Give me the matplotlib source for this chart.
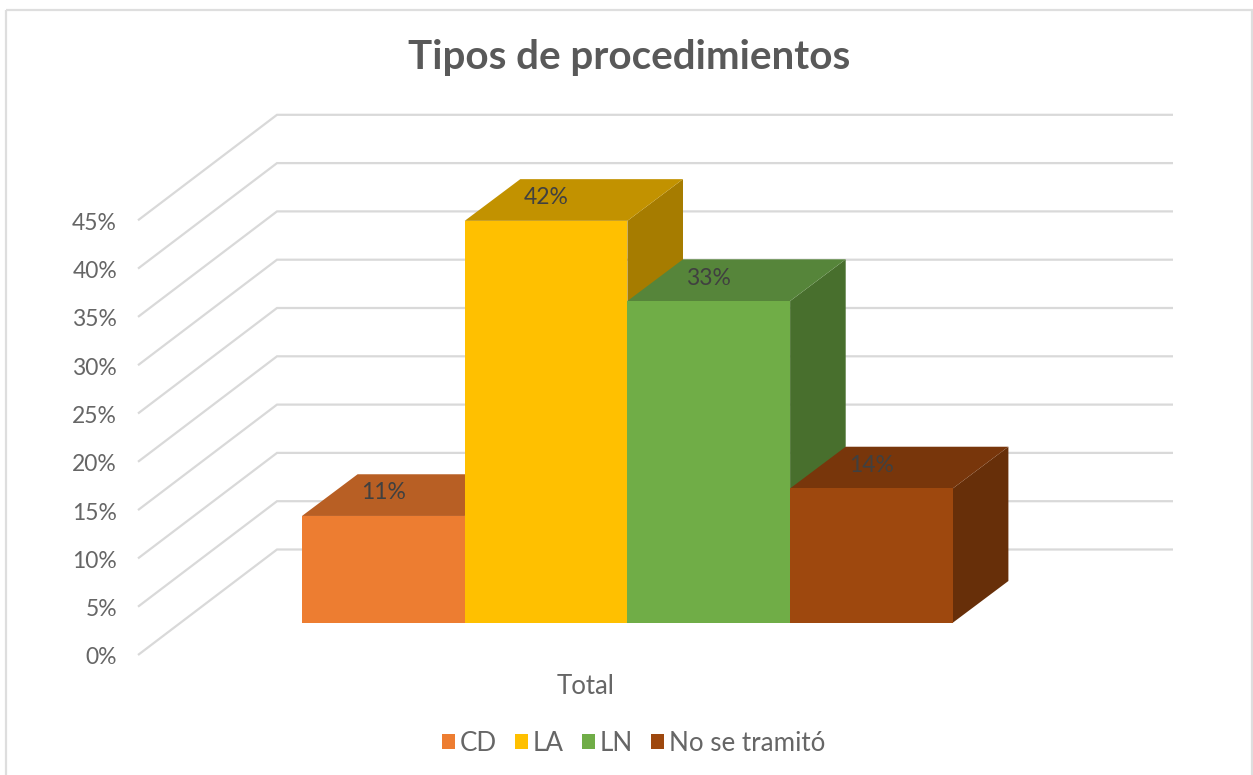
import matplotlib
matplotlib.use("Agg")
import matplotlib.pyplot as plt
from matplotlib.patches import Patch, Rectangle

plt.rcParams['font.family'] = ['Lato', 'DejaVu Sans']

title = "Tipos de procedimientos"
category = "Total"
series = ["CD", "LA", "LN", "No se tramitó"]
values = [11.05, 41.6, 33.3, 13.9]
ticks = [0, 5, 10, 15, 20, 25, 30, 35, 40, 45]

front_cols = ["#ED7D31", "#FFC000", "#70AD47", "#9E480E"]
top_cols = ["#B85F24", "#C29200", "#56853A", "#78360B"]
side_cols = ["#8E4B1D", "#A67C00", "#486F2D", "#672F09"]
grid_col = "#D9D9D9"
text_col = "#595959"

W, H = 1253, 775
# scale of the fake 3d chart, all in pixels
PX_PER_PCT = 48.3 / 5
FLOOR_Y = 655
WALL_L, WALL_R = 277, 1173
FRONT_L = 138
DEPTH_DY = 105.5
BAR_L, BAR_W = 302, 162.7
BAR_BASE = 622.7
BAR_DX, BAR_DY = 55.6, 41.7


def val_y(v, base=FLOOR_Y):
    return base - v * PX_PER_PCT


fig = plt.figure(figsize=(W / 100, H / 100), dpi=100, facecolor="white")
ax = fig.add_axes([0, 0, 1, 1])
ax.set_xlim(0, W)
ax.set_ylim(H, 0)
ax.axis("off")

# chart frame
ax.add_patch(Rectangle((5.5, 10), 1246.5, 780, fill=False, ec="#DEDEDE", lw=1.6, zorder=1))

# gridlines, slanted floor part then the back wall
for t in ticks:
    y = val_y(t)
    ax.plot([FRONT_L, WALL_L, WALL_R], [y, y - DEPTH_DY, y - DEPTH_DY], color=grid_col, lw=1.6,
            solid_joinstyle="miter", solid_capstyle="butt", zorder=2)
    ax.text(117, y + 3, f"{t}%", ha="right", va="center", fontsize=16.5, color="#666666")

# bars, left to right so later ones cover earlier side faces
for i, v in enumerate(values):
    x0 = BAR_L + i * BAR_W
    x1 = x0 + BAR_W
    top = val_y(v, BAR_BASE)
    ax.fill([x1, x1 + BAR_DX, x1 + BAR_DX, x1],
            [BAR_BASE, BAR_BASE - BAR_DY, top - BAR_DY, top], color=side_cols[i], lw=0, zorder=3 + i)
    ax.fill([x0, x1, x1 + BAR_DX, x0 + BAR_DX],
            [top, top, top - BAR_DY, top - BAR_DY], color=top_cols[i], lw=0, zorder=3 + i)
    ax.fill([x0, x1, x1, x0], [BAR_BASE, BAR_BASE, top, top], color=front_cols[i], lw=0, zorder=3 + i)

# data labels sit above the bars
for i, v in enumerate(values):
    ax.text(BAR_L + (i + 0.5) * BAR_W, val_y(v, BAR_BASE) - 23, f"{round(v)}%",
            ha="center", va="center", fontsize=16.5, color="#404040", zorder=10)

ax.text(629.5, 57, title, ha="center", va="center", fontsize=29.1, fontweight="bold", color=text_col)
ax.text(586, 686, category, ha="center", va="center", fontsize=18.5, color="#666666")

handles = [Patch(color=c, lw=0) for c in front_cols]
ax.legend(handles, series, loc="center", bbox_to_anchor=(633.5 / W, 1 - 743.5 / H), ncols=4, frameon=False,
          fontsize=18.7, labelcolor="#666666", handlelength=0.5, handleheight=0.5,
          handletextpad=0.2, columnspacing=0.68, borderpad=0)

fig.savefig("out.png", dpi=100)
